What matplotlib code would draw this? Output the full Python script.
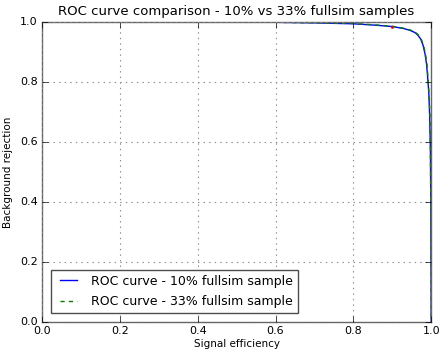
import matplotlib
matplotlib.use("Agg")
from matplotlib import pyplot as plt

plt.style.use("classic")

# signal efficiency / background rejection for the two fullsim samples
eff_10 = [0.0, 0.2, 0.4, 0.6, 0.7, 0.8, 0.85, 0.9, 0.93, 0.946, 0.958, 0.966,
          0.973, 0.979, 0.984, 0.988, 0.991, 0.994, 0.996, 0.998, 0.999, 1.0]
rej_10 = [1.0, 1.0, 0.9995, 0.999, 0.997, 0.994, 0.99, 0.985, 0.978, 0.972, 0.965, 0.956,
          0.943, 0.923, 0.895, 0.86, 0.815, 0.76, 0.69, 0.57, 0.4, 0.0]

eff_33 = [0.0, 0.2, 0.4, 0.6, 0.7, 0.8, 0.85, 0.9, 0.93, 0.947, 0.959, 0.967,
          0.974, 0.98, 0.985, 0.989, 0.992, 0.995, 0.997, 0.998, 0.999, 1.0]
rej_33 = [1.0, 1.0, 0.9995, 0.999, 0.997, 0.995, 0.991, 0.986, 0.979, 0.973, 0.966, 0.957,
          0.944, 0.924, 0.896, 0.86, 0.812, 0.75, 0.68, 0.56, 0.38, 0.0]

# working point
wp_eff = [0.90]
wp_rej = [0.985]

fig = plt.figure(figsize=(4.4, 3.52), dpi=100)
ax = fig.add_axes([0.0955, 0.085, 0.8845, 0.8525])

ax.plot(eff_10, rej_10, "b-", label="ROC curve - 10% fullsim sample")
ax.plot(eff_33, rej_33, color="g", linestyle=(0, (3, 3)),
        label="ROC curve - 33% fullsim sample")
ax.plot(wp_eff, wp_rej, "r.", markersize=3)

ax.set_xlim(0, 1)
ax.set_ylim(0, 1)
ax.grid(True, color="0.55", linestyle=":", linewidth=0.8)
for s in ax.spines.values():
    s.set_color("0.4")
ax.set_title("ROC curve comparison - 10% vs 33% fullsim samples", fontsize=9.5)
ax.set_xlabel("Signal efficiency", fontsize=7.5, labelpad=2)
ax.set_ylabel("Background rejection", fontsize=7.5)
ax.tick_params(labelsize=8, pad=3)
leg = ax.legend(loc="lower left", fontsize=9, handlelength=2.0,
                labelspacing=0.6, borderaxespad=0.7)
leg.get_frame().set_edgecolor("0.3")

fig.savefig("out.png", dpi=100)
